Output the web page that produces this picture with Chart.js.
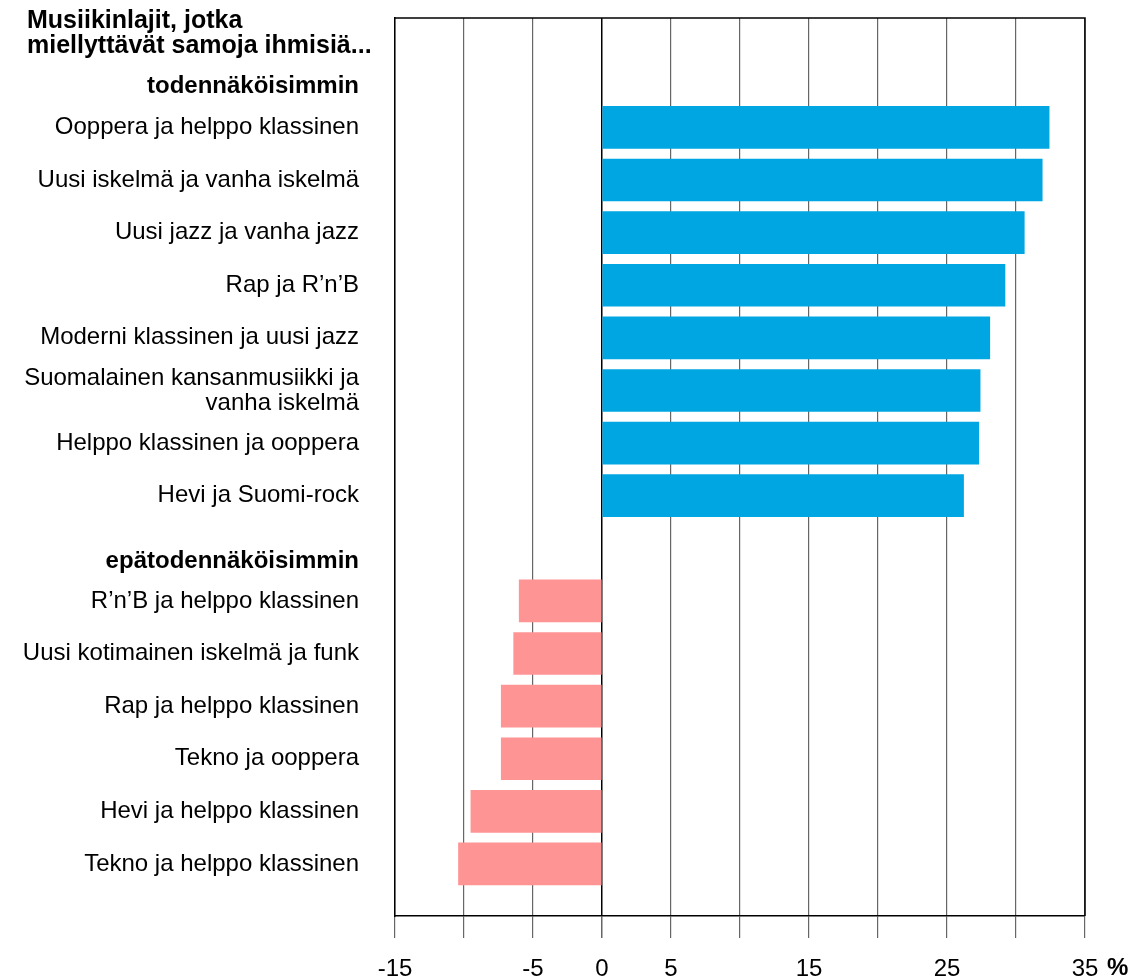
<!DOCTYPE html>
<html>
<head>
<meta charset="utf-8">
<script src="https://cdn.jsdelivr.net/npm/chart.js@4"></script>
<style>
  html, body { margin: 0; padding: 0; background: #fff; }
  #wrap { width: 1139px; height: 978px; }
</style>
</head>
<body>
<div id="wrap"><canvas id="musicChart"></canvas></div>
<script>
const titleLines = ['Musiikinlajit, jotka', 'miellyttävät samoja ihmisiä...'];
const groupHeaders = ['todennäköisimmin', 'epätodennäköisimmin'];

const likelyLabels = [
    'Ooppera ja helppo klassinen',
    'Uusi iskelmä ja vanha iskelmä',
    'Uusi jazz ja vanha jazz',
    'Rap ja R’n’B',
    'Moderni klassinen ja uusi jazz',
    ['Suomalainen kansanmusiikki ja', 'vanha iskelmä'],
    'Helppo klassinen ja ooppera',
    'Hevi ja Suomi-rock'
];
const likelyValues = [32.4, 31.9, 30.6, 29.2, 28.1, 27.4, 27.3, 26.2];

const unlikelyLabels = [
    'R’n’B ja helppo klassinen',
    'Uusi kotimainen iskelmä ja funk',
    'Rap ja helppo klassinen',
    'Tekno ja ooppera',
    'Hevi ja helppo klassinen',
    'Tekno ja helppo klassinen'
];
const unlikelyValues = [-6.0, -6.4, -7.3, -7.3, -9.5, -10.4];

const xTickLabels = [-15, -5, 0, 5, 15, 25, 35];

const FONT = 'Liberation Sans, Arial, sans-serif';
const unlikelyStart = likelyLabels.length + 1;

// row positions on the y scale: header, likely rows, header, unlikely rows
const rows = [];
rows.push({ value: -0.78, label: groupHeaders[0], bold: true });
likelyLabels.forEach((l, i) => rows.push({ value: i, label: l }));
rows.push({ value: likelyLabels.length + 0.24, label: groupHeaders[1], bold: true });
unlikelyLabels.forEach((l, i) => rows.push({ value: unlikelyStart + i, label: l }));

function rowFor(v) {
    return rows.find(r => Math.abs(r.value - v) < 0.001);
}

const framePlugin = {
    id: 'frame',
    afterDraw(chart) {
        const ctx = chart.ctx;
        const a = chart.chartArea;
        ctx.save();
        ctx.strokeStyle = '#000';
        ctx.lineWidth = 1.5;
        ctx.beginPath();
        ctx.moveTo(a.left, a.top);
        ctx.lineTo(a.right, a.top);
        ctx.lineTo(a.right, a.bottom);
        ctx.stroke();

        // title
        ctx.fillStyle = '#000';
        ctx.font = 'bold 25px ' + FONT;
        ctx.textAlign = 'left';
        ctx.textBaseline = 'middle';
        titleLines.forEach((t, i) => ctx.fillText(t, 27, 21 + i * 25));

        // bold % after the last x tick
        const xs = chart.scales.x;
        const px = xs.getPixelForValue(35);
        ctx.font = 'bold 24px ' + FONT;
        ctx.fillText('%', px + 22, 968);
        ctx.restore();
    }
};

new Chart(document.getElementById('musicChart'), {
    type: 'bar',
    data: {
        datasets: [{
            data: likelyValues.map((v, i) => ({ x: v, y: i })),
            backgroundColor: '#00a6e2',
            borderWidth: 0
        }, {
            data: unlikelyValues.map((v, i) => ({ x: v, y: unlikelyStart + i })),
            backgroundColor: '#ff9494',
            borderWidth: 0
        }]
    },
    options: {
        indexAxis: 'y',
        responsive: true,
        maintainAspectRatio: false,
        animation: false,
        layout: { padding: { top: 18, right: 54, left: 0, bottom: 0 } },
        datasets: {
            bar: { grouped: false, barThickness: 42 }
        },
        plugins: {
            legend: { display: false },
            tooltip: { enabled: false }
        },
        scales: {
            x: {
                type: 'linear',
                min: -15,
                max: 35,
                afterBuildTicks: (s) => {
                    s.ticks = [];
                    for (let v = -15; v <= 35; v += 5) s.ticks.push({ value: v });
                },
                afterFit: (s) => { s.height = 62; s.paddingLeft = 0; s.paddingRight = 0; },
                grid: {
                    color: (c) => c.tick && c.tick.value === 0 ? '#000' : '#666',
                    lineWidth: (c) => c.tick && c.tick.value === 0 ? 1.5 : 1.2,
                    tickLength: 22,
                    tickColor: '#666'
                },
                border: { color: '#000', width: 1.5 },
                ticks: {
                    autoSkip: false,
                    maxRotation: 0,
                    padding: 17,
                    color: '#000',
                    font: { family: FONT, size: 24 },
                    callback: (v) => xTickLabels.includes(v) ? String(v) : ''
                }
            },
            y: {
                type: 'linear',
                reverse: true,
                offset: false,
                min: -2.08,
                max: 14.99,
                afterBuildTicks: (s) => { s.ticks = rows.map(r => ({ value: r.value })); },
                afterFit: (s) => { s.width = 395; s.paddingTop = 0; s.paddingBottom = 0; },
                grid: { display: false, offset: false },
                border: { color: '#000', width: 1.5 },
                ticks: {
                    autoSkip: false,
                    padding: 28,
                    color: '#000',
                    font: (c) => {
                        const r = c.tick && rowFor(c.tick.value);
                        return { family: FONT, size: 24, weight: r && r.bold ? 'bold' : 'normal', lineHeight: 1.04 };
                    },
                    callback: (v) => { const r = rowFor(v); return r ? r.label : ''; }
                }
            }
        }
    },
    plugins: [framePlugin]
});
</script>
</body>
</html>
